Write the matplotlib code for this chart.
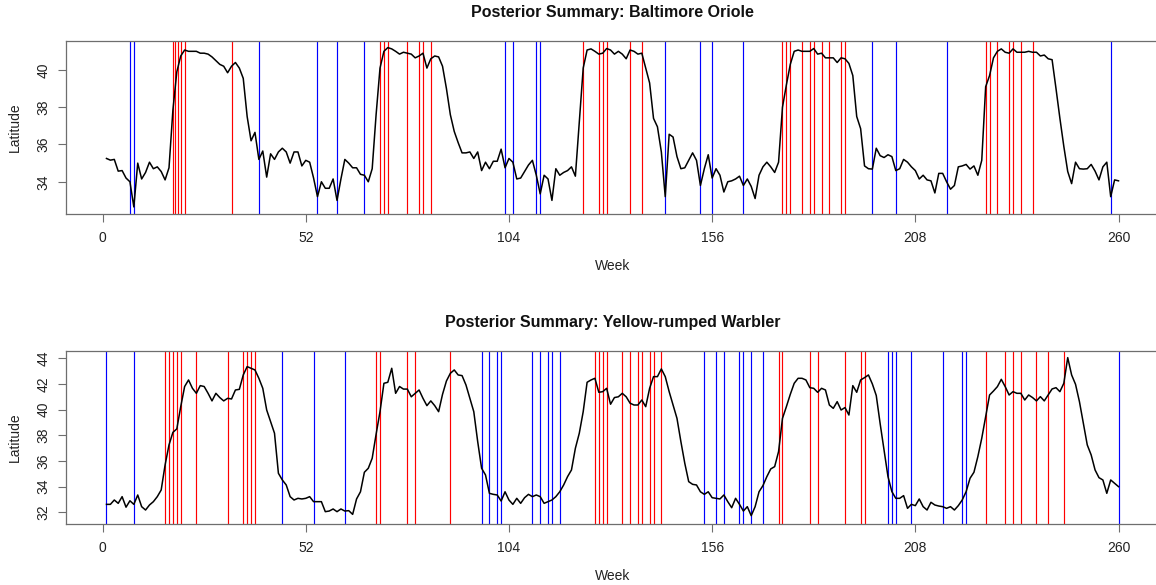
import matplotlib
matplotlib.use("Agg")
import matplotlib.pyplot as plt
import numpy as np

weeks = list(range(1, 261))

oriole_lat = [
    35.25, 35.16, 35.2, 34.57, 34.6, 34.2, 34.0, 32.65, 35.0, 34.15,
    34.5, 35.05, 34.7, 34.8, 34.55, 34.1, 34.75, 37.85, 39.9, 40.75,
    41.07, 41.0, 41.0, 41.0, 40.9, 40.9, 40.85, 40.7, 40.5, 40.3,
    40.2, 39.85, 40.2, 40.4, 40.1, 39.55, 37.5, 36.2, 36.65, 35.2,
    35.65, 34.25, 35.5, 35.2, 35.6, 35.8, 35.6, 35.0, 35.6, 35.6,
    34.85, 35.15, 35.05, 34.2, 33.2, 34.0, 33.65, 33.65, 34.15, 33.0,
    34.15, 35.2, 35.0, 34.75, 34.75, 34.4, 34.35, 34.0, 34.7, 37.6,
    40.1, 41.0, 41.2, 41.13, 41.0, 40.85, 40.95, 40.9, 40.85, 40.65,
    40.75, 40.9, 40.1, 40.6, 40.75, 40.7, 40.2, 39.0, 37.6, 36.7,
    36.1, 35.55, 35.55, 35.6, 35.25, 35.6, 34.6, 35.05, 34.7, 35.1,
    35.1, 35.75, 34.75, 35.25, 35.05, 34.15, 34.2, 34.55, 34.9, 35.15,
    34.35, 33.35, 34.35, 34.15, 33.0, 34.7, 34.35, 34.5, 34.6, 34.8,
    34.3, 37.2, 40.1, 41.07, 41.13, 41.0, 40.85, 40.9, 41.15, 41.07,
    40.85, 41.0, 40.85, 40.6, 41.07, 41.0, 40.85, 40.9, 40.1, 39.3,
    37.4, 36.95, 35.6, 33.2, 36.55, 36.4, 35.35, 34.7, 34.75, 35.15,
    35.55, 35.15, 33.8, 34.7, 35.45, 34.2, 34.7, 34.35, 33.45, 34.0,
    34.05, 34.15, 34.3, 33.8, 34.15, 33.75, 33.1, 34.35, 34.8, 35.05,
    34.8, 34.5, 35.05, 38.0, 39.2, 40.3, 41.0, 41.07, 41.0, 41.0,
    41.0, 41.15, 40.85, 40.9, 40.65, 40.65, 40.65, 40.4, 40.65, 40.6,
    40.35, 39.7, 37.5, 36.85, 34.85, 34.7, 34.68, 35.8, 35.4, 35.3,
    35.45, 35.35, 34.6, 34.7, 35.2, 35.05, 34.8, 34.6, 34.15, 34.35,
    34.1, 34.05, 33.4, 34.45, 34.45, 34.0, 33.6, 33.8, 34.8, 34.85,
    34.93, 34.68, 34.85, 34.35, 35.15, 39.1, 39.7, 40.65, 41.0, 41.13,
    40.95, 40.9, 41.13, 40.95, 40.95, 40.95, 41.0, 40.95, 40.95, 40.75,
    40.8, 40.6, 40.55, 39.0, 37.4, 35.9, 34.55, 33.9, 35.05, 34.7,
    34.68, 34.7, 34.93, 34.57, 34.1, 34.8, 35.05, 33.2, 34.1, 34.05,
]

warbler_lat = [
    32.62, 32.62, 32.96, 32.7, 33.22, 32.4, 32.9, 32.62, 33.35, 32.44,
    32.18, 32.57, 32.83, 33.22, 33.74, 35.69, 37.25, 38.23, 38.5, 40.23,
    41.8, 42.31, 41.66, 41.27, 41.87, 41.8, 41.27, 40.68, 41.27, 40.94,
    40.68, 40.88, 40.83, 41.53, 41.58, 42.7, 43.35, 43.22, 43.09, 42.44,
    41.66, 39.97, 39.06, 38.16, 35.04, 34.52, 34.13, 33.22, 32.96, 33.09,
    33.04, 33.09, 33.22, 32.83, 32.83, 32.83, 32.05, 32.1, 32.26, 32.05,
    32.26, 32.1, 32.13, 31.84, 33.04, 33.6, 35.12, 35.43, 36.21, 38.08,
    39.84, 42.05, 42.13, 43.22, 41.27, 41.8, 41.6, 41.6, 41.0, 41.27,
    41.53, 40.88, 40.31, 40.68, 40.31, 39.84, 41.19, 42.23, 42.83, 43.09,
    42.7, 42.65, 41.92, 40.88, 39.84, 37.51, 35.43, 34.91, 33.48, 33.4,
    33.35, 32.88, 33.6, 32.96, 32.62, 33.09, 32.7, 33.14, 33.4, 33.22,
    33.35, 33.22, 32.7, 32.83, 32.96, 33.22, 33.6, 34.13, 34.78, 35.3,
    36.99, 38.16, 39.84, 42.13, 42.31, 42.44, 41.35, 41.4, 41.66, 40.42,
    40.94, 41.0, 41.27, 41.0, 40.5, 40.36, 40.36, 40.75, 40.23, 41.66,
    42.57, 42.57, 43.17, 42.57, 41.4, 40.36, 39.32, 37.51, 35.82, 34.39,
    34.18, 34.13, 33.6, 33.4, 33.6, 33.14, 33.09, 33.04, 33.35, 32.83,
    32.36, 33.09, 32.62, 32.1, 32.44, 31.74, 32.44, 33.6, 34.08, 34.78,
    35.38, 35.56, 36.73, 39.32, 40.23, 41.19, 42.05, 42.44, 42.44, 42.31,
    41.71, 41.66, 41.35, 41.66, 41.53, 40.36, 40.1, 40.62, 39.97, 40.16,
    39.58, 41.87, 41.35, 42.31, 42.49, 42.7, 42.0, 41.1, 38.9, 36.86,
    34.78, 33.61, 33.09, 33.09, 33.3, 32.31, 32.62, 32.52, 33.04, 32.44,
    32.18, 32.78, 32.57, 32.49, 32.44, 32.31, 32.44, 32.18, 32.52, 32.96,
    33.61, 34.65, 35.12, 36.34, 37.77, 39.45, 41.14, 41.45, 41.79, 42.36,
    41.79, 41.14, 41.4, 41.27, 41.27, 40.75, 41.14, 40.94, 40.68, 41.01,
    40.68, 41.14, 41.61, 41.71, 41.4, 42.05, 44.05, 42.7, 41.97, 40.62,
    38.94, 37.25, 36.47, 35.3, 34.7, 34.52, 33.48, 34.52, 34.26, 34.0,
]

oriole_blue = [7, 8, 40, 55, 60, 67, 103, 105, 111, 112, 144, 153, 156, 164,
               197, 203, 216, 258]
oriole_red = [18, 18.6, 19.3, 20, 21, 33, 71, 72, 73, 78, 81, 82, 84, 123, 127,
              128, 129, 135, 138, 174, 175, 176, 179, 181, 182, 184, 186, 189,
              190, 226, 227, 229, 232, 233, 235, 238]

warbler_blue = [1, 8, 46, 54, 62, 97, 99, 101, 102, 110, 112, 114, 115, 117,
                154, 157, 159, 163, 164, 166, 169, 201, 202, 203, 207, 215, 220,
                221, 260]
warbler_red = [16, 17, 18, 19, 20, 24, 32, 36, 37, 38, 39, 70, 71, 78, 80, 89,
               126, 127, 128, 129, 133, 135, 137, 138, 140, 141, 143, 173, 174,
               181, 183, 190, 194, 195, 226, 231, 233, 235, 239, 242, 246]

x_ticks = [0, 52, 104, 156, 208, 260]
oriole_yticks = [34, 36, 38, 40]
warbler_yticks = [32, 34, 36, 38, 40, 42, 44]

titles = ["Posterior Summary: Baltimore Oriole",
          "Posterior Summary: Yellow-rumped Warbler"]

plt.rcParams['font.family'] = ['Liberation Sans', 'DejaVu Sans']

W, H = 1156, 585
fig = plt.figure(figsize=(W / 100, H / 100), dpi=100)

def px_axes(left, top, right, bottom):
    return fig.add_axes([left / W, 1 - bottom / H, (right - left) / W, (bottom - top) / H])

panels = [
    (px_axes(66, 40.7, 1159, 214), oriole_lat, oriole_blue, oriole_red,
     oriole_yticks, (32.27, 41.57), titles[0]),
    (px_axes(66, 350.7, 1159, 524), warbler_lat, warbler_blue, warbler_red,
     warbler_yticks, (31.09, 44.59), titles[1]),
]

frame_col = "#6e6e6e"
for ax, lat, blues, reds, yt, yl, title in panels:
    for r in reds:
        ax.axvline(r, color="#ff0000", lw=0.85, zorder=1)
    for b in blues:
        ax.axvline(b, color="#0000ff", lw=0.85, zorder=1)
    ax.plot(weeks, lat, color="black", lw=1.1, zorder=3)
    ax.set_xlim(-9.36, 270.36)
    ax.set_ylim(*yl)
    ax.set_xticks(x_ticks)
    ax.set_yticks(yt)
    ax.tick_params(axis="both", direction="out", length=5.5, width=0.8,
                   color=frame_col, labelsize=10, labelcolor="#222222")
    ax.tick_params(axis="x", pad=6.5)
    ax.tick_params(axis="y", pad=5.5)
    for lab in ax.get_yticklabels():
        lab.set_rotation(90)
        lab.set_va("center")
    for s in ax.spines.values():
        s.set_color(frame_col)
        s.set_linewidth(0.9)
    ax.set_xlabel("Week", fontsize=10, color="#222222")
    ax.xaxis.set_label_coords(0.5, -0.30)
    ax.xaxis.label.set_va("center")
    ax.set_ylabel("Latitude", fontsize=10, color="#222222")
    ax.yaxis.set_label_coords(-0.0467, 0.5)
    ax.yaxis.label.set_va("center")
    ax.text(0.5, 1.163, title, transform=ax.transAxes, ha="center", va="center",
            fontsize=11.5, fontweight="bold", color="#111111")

fig.savefig("out.png", dpi=100)
